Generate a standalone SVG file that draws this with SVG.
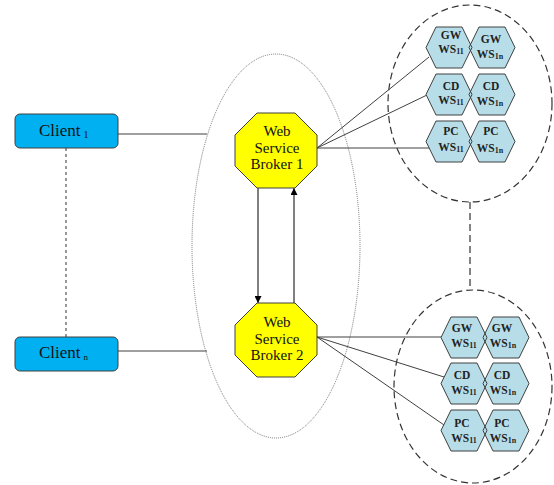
<svg xmlns="http://www.w3.org/2000/svg" width="554" height="485" viewBox="0 0 554 485">
<style>
.conn{stroke:#404040;stroke-width:1;fill:none}
.dash{stroke:#333;stroke-width:1.2;fill:none;stroke-dasharray:7,4}
.hex{fill:#B7DEE8;stroke:none}
.hexs{fill:none;stroke:#404040;stroke-width:1}
.oct{fill:#FFFF00;stroke:#404040;stroke-width:1}
.client{fill:#00B0F0;stroke:#404040;stroke-width:1}
text{font-family:"Liberation Serif","Times New Roman",serif;fill:#111}
.bt{font-size:15px;text-anchor:middle}
.ht{font-size:11.5px;font-weight:bold;text-anchor:middle;fill:#222}
.ct{font-size:17px}
</style>
<defs>
<marker id="ah" viewBox="0 0 10 10" refX="10" refY="5" markerWidth="7" markerHeight="7" orient="auto" markerUnits="userSpaceOnUse">
<path d="M0,0 L10,5 L0,10 z" fill="#000"/>
</marker>
<polygon id="hx" points="0,20.5 10,0 36,0 46,20.5 36,41 10,41"/>
</defs>
<rect width="554" height="485" fill="#fff"/>

<g id="containers">
<ellipse cx="276" cy="246" rx="84" ry="192" fill="none" stroke="#777" stroke-width="1" stroke-dasharray="1,1"/>
<ellipse cx="470" cy="103.5" rx="82" ry="98.5" class="dash"/>
<ellipse cx="473" cy="386.5" rx="79" ry="96.5" class="dash"/>
</g>

<g id="connectors">
<line class="conn" x1="118" y1="134" x2="207" y2="134"/>
<line class="conn" x1="118" y1="351" x2="207" y2="351"/>
<line x1="66" y1="148" x2="66" y2="337" stroke="#333" stroke-width="1" stroke-dasharray="3,3"/>
<line class="dash" x1="470" y1="202" x2="470" y2="290"/>
<line class="conn" x1="317" y1="148" x2="429" y2="57"/>
<line class="conn" x1="317" y1="148" x2="427" y2="95"/>
<line class="conn" x1="317" y1="148" x2="429" y2="148"/>
<line class="conn" x1="317" y1="337" x2="441" y2="337"/>
<line class="conn" x1="317" y1="337" x2="444" y2="377"/>
<line class="conn" x1="317" y1="337" x2="444" y2="425"/>
<line x1="258" y1="188" x2="258" y2="303" stroke="#000" stroke-width="1" marker-end="url(#ah)"/>
<line x1="294" y1="303" x2="294" y2="188" stroke="#000" stroke-width="1" marker-end="url(#ah)"/>
</g>

<g id="client1">
<rect class="client" x="15" y="114" width="103" height="34" rx="5"/>
<text class="ct" x="39" y="136">Client<tspan font-size="10" dx="3" dy="2">1</tspan></text>
</g>
<g id="clientn">
<rect class="client" x="15" y="337" width="103" height="34" rx="5"/>
<text class="ct" x="39" y="358">Client<tspan font-size="9" dx="3" dy="2">n</tspan></text>
</g>

<g id="broker1">
<polygon class="oct" points="257,113 295,113 317,135 317,166 295,188 257,188 235,166 235,135"/>
<text class="bt" x="277" y="136">Web</text>
<text class="bt" x="277" y="153">Service</text>
<text class="bt" x="277" y="169">Broker 1</text>
</g>
<g id="broker2">
<polygon class="oct" points="257,303 295,303 317,325 317,355 295,377 257,377 235,355 235,325"/>
<text class="bt" x="277" y="327">Web</text>
<text class="bt" x="277" y="344">Service</text>
<text class="bt" x="277" y="360">Broker 2</text>
</g>

<g id="top-gw">
<use href="#hx" class="hex" x="426" y="27"/><use href="#hx" class="hex" x="469" y="27"/>
<use href="#hx" class="hexs" x="426" y="27"/><use href="#hx" class="hexs" x="469" y="27"/>
<text class="ht" x="451" y="39">GW</text>
<text class="ht" x="451" y="53">WS<tspan font-size="8" dy="1">11</tspan></text>
<text class="ht" x="491" y="43">GW</text>
<text class="ht" x="490" y="58">WS<tspan font-size="8" dy="1">1n</tspan></text>
</g>
<g id="top-cd">
<use href="#hx" class="hex" x="426" y="74"/><use href="#hx" class="hex" x="469" y="74"/>
<use href="#hx" class="hexs" x="426" y="74"/><use href="#hx" class="hexs" x="469" y="74"/>
<text class="ht" x="451" y="90">CD</text>
<text class="ht" x="451" y="104">WS<tspan font-size="8" dy="1">11</tspan></text>
<text class="ht" x="491" y="90">CD</text>
<text class="ht" x="490" y="105">WS<tspan font-size="8" dy="1">1n</tspan></text>
</g>
<g id="top-pc">
<use href="#hx" class="hex" x="426" y="121"/><use href="#hx" class="hex" x="469" y="121"/>
<use href="#hx" class="hexs" x="426" y="121"/><use href="#hx" class="hexs" x="469" y="121"/>
<text class="ht" x="451" y="135">PC</text>
<text class="ht" x="451" y="151">WS<tspan font-size="8" dy="1">11</tspan></text>
<text class="ht" x="491" y="135">PC</text>
<text class="ht" x="490" y="152">WS<tspan font-size="8" dy="1">1n</tspan></text>
</g>

<g id="bot-gw">
<use href="#hx" class="hex" x="441" y="317"/><use href="#hx" class="hex" x="483" y="317"/>
<use href="#hx" class="hexs" x="441" y="317"/><use href="#hx" class="hexs" x="483" y="317"/>
<text class="ht" x="462" y="332">GW</text>
<text class="ht" x="464" y="347">WS<tspan font-size="8" dy="1">11</tspan></text>
<text class="ht" x="502" y="332">GW</text>
<text class="ht" x="503" y="347">WS<tspan font-size="8" dy="1">1n</tspan></text>
</g>
<g id="bot-cd">
<use href="#hx" class="hex" x="441" y="363"/><use href="#hx" class="hex" x="483" y="363"/>
<use href="#hx" class="hexs" x="441" y="363"/><use href="#hx" class="hexs" x="483" y="363"/>
<text class="ht" x="462" y="379">CD</text>
<text class="ht" x="464" y="394">WS<tspan font-size="8" dy="1">11</tspan></text>
<text class="ht" x="502" y="379">CD</text>
<text class="ht" x="503" y="394">WS<tspan font-size="8" dy="1">1n</tspan></text>
</g>
<g id="bot-pc">
<use href="#hx" class="hex" x="441" y="410"/><use href="#hx" class="hex" x="483" y="410"/>
<use href="#hx" class="hexs" x="441" y="410"/><use href="#hx" class="hexs" x="483" y="410"/>
<text class="ht" x="462" y="427">PC</text>
<text class="ht" x="464" y="442">WS<tspan font-size="8" dy="1">11</tspan></text>
<text class="ht" x="502" y="427">PC</text>
<text class="ht" x="503" y="442">WS<tspan font-size="8" dy="1">1n</tspan></text>
</g>
</svg>
